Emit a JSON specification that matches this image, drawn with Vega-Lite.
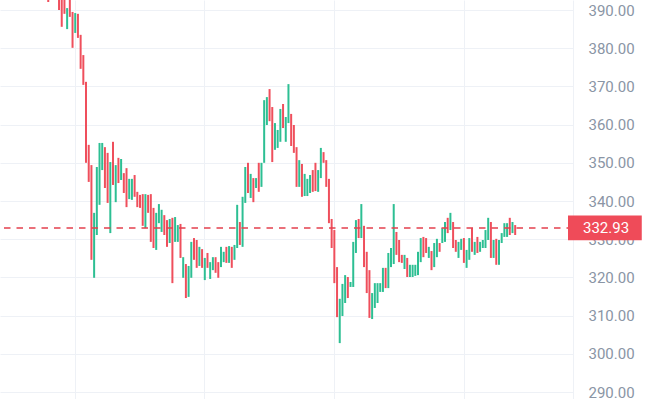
{
 "$schema": "https://vega.github.io/schema/vega-lite/v6.json",
 "width": 573, "height": 399, "autosize": "none", "padding": {"left": 0, "top": 0, "bottom": 0, "right": 83},
 "background": "#ffffff",
 "config": {"view": {"stroke": null}, "font": "Roboto", "axis": {"labelOverlap": false, "labelBound": false, "labelFlush": false}},
 "datasets": {
  "c": [
{"i":0,"d":"d","lo":392.1,"hi":394},{"i":4,"d":"d","lo":390.0,"hi":394},{"i":5,"d":"d","lo":385.6,"hi":394},{"i":6,"d":"d","lo":389.0,"hi":394},{"i":7,"d":"u","lo":385.0,"hi":390.5},{"i":8,"d":"d","lo":388.2,"hi":394},{"i":9,"d":"d","lo":380.1,"hi":389.5},{"i":10,"d":"u","lo":384.0,"hi":389.2},{"i":11,"d":"d","lo":382.7,"hi":389.0},{"i":12,"d":"d","lo":374.6,"hi":383.5},{"i":13,"d":"d","lo":370.4,"hi":378.2},{"i":14,"d":"d","lo":350.0,"hi":371.2},{"i":15,"d":"d","lo":345.0,"hi":354.7},{"i":16,"d":"d","lo":324.6,"hi":349.4},{"i":17,"d":"u","lo":319.9,"hi":336.9},{"i":18,"d":"u","lo":331.1,"hi":348.9},{"i":19,"d":"u","lo":339.0,"hi":355.2},{"i":20,"d":"u","lo":348.1,"hi":355.2},{"i":21,"d":"d","lo":343.4,"hi":354.1},{"i":22,"d":"d","lo":339.5,"hi":352.6},{"i":23,"d":"u","lo":331.6,"hi":350.2},{"i":24,"d":"d","lo":344.2,"hi":355.5},{"i":25,"d":"u","lo":339.7,"hi":349.4},{"i":26,"d":"d","lo":344.7,"hi":351.3},{"i":27,"d":"u","lo":345.5,"hi":351.0},{"i":28,"d":"d","lo":342.1,"hi":347.3},{"i":29,"d":"d","lo":338.4,"hi":348.6},{"i":30,"d":"u","lo":340.5,"hi":345.8},{"i":31,"d":"u","lo":340.3,"hi":345.8},{"i":32,"d":"d","lo":341.1,"hi":346.8},{"i":33,"d":"d","lo":338.4,"hi":342.4},{"i":34,"d":"d","lo":338.2,"hi":341.6},{"i":35,"d":"d","lo":333.5,"hi":341.8},{"i":36,"d":"u","lo":332.9,"hi":341.8},{"i":37,"d":"d","lo":336.9,"hi":341.6},{"i":38,"d":"d","lo":329.3,"hi":341.8},{"i":39,"d":"d","lo":327.7,"hi":338.2},{"i":40,"d":"u","lo":327.2,"hi":336.9},{"i":41,"d":"u","lo":334.2,"hi":339.2},{"i":42,"d":"u","lo":331.9,"hi":337.7},{"i":43,"d":"d","lo":331.1,"hi":336.3},{"i":44,"d":"d","lo":328.0,"hi":335.0},{"i":45,"d":"u","lo":329.0,"hi":335.3},{"i":46,"d":"d","lo":318.5,"hi":335.6},{"i":47,"d":"u","lo":329.3,"hi":335.8},{"i":48,"d":"u","lo":329.3,"hi":333.7},{"i":49,"d":"d","lo":325.1,"hi":334.0},{"i":50,"d":"u","lo":319.9,"hi":325.3},{"i":51,"d":"d","lo":314.6,"hi":323.5},{"i":52,"d":"u","lo":314.9,"hi":323.0},{"i":53,"d":"u","lo":319.9,"hi":329.3},{"i":54,"d":"d","lo":324.6,"hi":330.3},{"i":55,"d":"d","lo":322.5,"hi":329.8},{"i":56,"d":"u","lo":323.0,"hi":328.0},{"i":57,"d":"d","lo":322.5,"hi":327.4},{"i":58,"d":"u","lo":319.3,"hi":325.1},{"i":59,"d":"d","lo":322.5,"hi":326.4},{"i":60,"d":"u","lo":319.6,"hi":324.0},{"i":61,"d":"u","lo":321.9,"hi":325.3},{"i":62,"d":"d","lo":321.2,"hi":325.3},{"i":63,"d":"d","lo":319.9,"hi":324.0},{"i":64,"d":"u","lo":322.7,"hi":328.0},{"i":65,"d":"u","lo":324.0,"hi":326.7},{"i":66,"d":"d","lo":323.8,"hi":328.0},{"i":67,"d":"u","lo":323.8,"hi":328.2},{"i":68,"d":"d","lo":322.5,"hi":328.0},{"i":69,"d":"u","lo":324.6,"hi":328.5},{"i":70,"d":"u","lo":327.7,"hi":339.0},{"i":71,"d":"d","lo":328.5,"hi":334.5},{"i":72,"d":"u","lo":328.0,"hi":341.1},{"i":73,"d":"u","lo":339.5,"hi":348.9},{"i":74,"d":"d","lo":342.1,"hi":350.0},{"i":75,"d":"u","lo":340.8,"hi":347.1},{"i":76,"d":"d","lo":339.7,"hi":346.0},{"i":77,"d":"u","lo":343.4,"hi":346.0},{"i":78,"d":"d","lo":342.4,"hi":350.0},{"i":79,"d":"u","lo":343.7,"hi":350.0},{"i":80,"d":"u","lo":350.0,"hi":366.4},{"i":81,"d":"u","lo":359.9,"hi":367.2},{"i":82,"d":"d","lo":360.9,"hi":369.3},{"i":83,"d":"d","lo":350.2,"hi":364.6},{"i":84,"d":"u","lo":353.4,"hi":360.4},{"i":85,"d":"u","lo":353.9,"hi":358.6},{"i":86,"d":"u","lo":355.5,"hi":364.1},{"i":87,"d":"d","lo":359.1,"hi":365.4},{"i":88,"d":"u","lo":355.5,"hi":362.0},{"i":89,"d":"u","lo":360.4,"hi":370.6},{"i":90,"d":"d","lo":354.4,"hi":362.8},{"i":91,"d":"d","lo":352.6,"hi":359.9},{"i":92,"d":"d","lo":343.7,"hi":354.1},{"i":93,"d":"u","lo":343.7,"hi":350.7},{"i":94,"d":"d","lo":341.1,"hi":349.7},{"i":95,"d":"u","lo":341.3,"hi":347.1},{"i":96,"d":"u","lo":341.3,"hi":345.8},{"i":97,"d":"u","lo":342.1,"hi":346.8},{"i":98,"d":"d","lo":342.4,"hi":348.1},{"i":99,"d":"d","lo":342.6,"hi":350.0},{"i":100,"d":"u","lo":342.4,"hi":348.1},{"i":101,"d":"u","lo":346.0,"hi":353.9},{"i":102,"d":"d","lo":350.0,"hi":352.8},{"i":103,"d":"d","lo":343.7,"hi":350.7},{"i":104,"d":"d","lo":334.2,"hi":345.8},{"i":105,"d":"d","lo":327.7,"hi":335.3},{"i":106,"d":"d","lo":318.5,"hi":332.4},{"i":107,"d":"d","lo":309.6,"hi":322.7},{"i":108,"d":"u","lo":302.8,"hi":314.4},{"i":109,"d":"u","lo":309.9,"hi":318.3},{"i":110,"d":"u","lo":313.3,"hi":320.6},{"i":111,"d":"d","lo":314.6,"hi":320.1},{"i":112,"d":"u","lo":317.5,"hi":318.8},{"i":113,"d":"u","lo":317.5,"hi":329.3},{"i":114,"d":"u","lo":326.4,"hi":335.0},{"i":115,"d":"d","lo":330.3,"hi":335.3},{"i":116,"d":"u","lo":330.3,"hi":339.2},{"i":117,"d":"d","lo":322.7,"hi":333.5},{"i":118,"d":"d","lo":315.9,"hi":326.7},{"i":119,"d":"d","lo":309.4,"hi":321.9},{"i":120,"d":"u","lo":309.1,"hi":315.9},{"i":121,"d":"u","lo":312.0,"hi":318.5},{"i":122,"d":"u","lo":313.3,"hi":318.5},{"i":123,"d":"u","lo":316.2,"hi":318.5},{"i":124,"d":"u","lo":316.2,"hi":322.5},{"i":125,"d":"d","lo":317.2,"hi":322.5},{"i":126,"d":"u","lo":317.2,"hi":326.4},{"i":127,"d":"u","lo":322.7,"hi":327.7},{"i":128,"d":"u","lo":323.5,"hi":339.2},{"i":129,"d":"d","lo":325.9,"hi":331.9},{"i":130,"d":"d","lo":324.0,"hi":329.8},{"i":131,"d":"d","lo":323.8,"hi":325.9},{"i":132,"d":"u","lo":322.2,"hi":325.9},{"i":133,"d":"d","lo":320.1,"hi":325.1},{"i":134,"d":"u","lo":320.1,"hi":323.3},{"i":135,"d":"u","lo":320.1,"hi":323.3},{"i":136,"d":"u","lo":320.4,"hi":323.3},{"i":137,"d":"u","lo":320.6,"hi":326.7},{"i":138,"d":"u","lo":324.0,"hi":330.3},{"i":139,"d":"d","lo":325.3,"hi":330.6},{"i":140,"d":"d","lo":326.4,"hi":330.3},{"i":141,"d":"u","lo":325.1,"hi":328.0},{"i":142,"d":"d","lo":321.9,"hi":326.9},{"i":143,"d":"u","lo":322.7,"hi":329.0},{"i":144,"d":"u","lo":325.3,"hi":330.1},{"i":145,"d":"d","lo":326.7,"hi":329.0},{"i":146,"d":"u","lo":329.0,"hi":332.9},{"i":147,"d":"u","lo":329.3,"hi":334.5},{"i":148,"d":"d","lo":331.6,"hi":335.6},{"i":149,"d":"u","lo":332.4,"hi":336.9},{"i":150,"d":"d","lo":327.7,"hi":334.5},{"i":151,"d":"d","lo":326.7,"hi":329.8},{"i":152,"d":"u","lo":325.1,"hi":329.3},{"i":153,"d":"u","lo":327.2,"hi":330.1},{"i":154,"d":"d","lo":323.8,"hi":330.3},{"i":155,"d":"u","lo":322.5,"hi":327.2},{"i":156,"d":"u","lo":324.6,"hi":330.3},{"i":157,"d":"d","lo":326.7,"hi":332.9},{"i":158,"d":"u","lo":325.9,"hi":329.3},{"i":159,"d":"d","lo":326.4,"hi":330.6},{"i":160,"d":"u","lo":326.7,"hi":329.3},{"i":161,"d":"u","lo":327.7,"hi":329.8},{"i":162,"d":"u","lo":327.7,"hi":332.4},{"i":163,"d":"u","lo":329.8,"hi":335.6},{"i":164,"d":"d","lo":325.1,"hi":334.5},{"i":165,"d":"u","lo":325.1,"hi":329.8},{"i":166,"d":"d","lo":323.3,"hi":330.1},{"i":167,"d":"u","lo":323.3,"hi":329.8},{"i":168,"d":"u","lo":329.0,"hi":331.6},{"i":169,"d":"u","lo":330.6,"hi":334.2},{"i":170,"d":"u","lo":330.6,"hi":334.2},{"i":171,"d":"d","lo":331.1,"hi":335.6},{"i":172,"d":"u","lo":331.6,"hi":334.5},{"i":173,"d":"d","lo":331.1,"hi":333.7}
  ],
  "last": [{"p": 332.93, "t": "332.93"}]
 },
 "layer": [
  {
   "data": {"name": "c"},
   "mark": {"type": "bar", "width": 2, "clip": true},
   "encoding": {
    "x": {"field": "i", "type": "quantitative",
          "scale": {"domain": [-16.02, 192.57], "nice": false, "zero": false},
          "axis": {"values": [9.8, 57.6, 105.9, 154], "tickCount": 10, "labels": false, "ticks": false, "domain": false, "title": null, "grid": true, "gridColor": "#eef1f6", "gridWidth": 1}},
    "y": {"field": "lo", "type": "quantitative",
          "scale": {"domain": [288.17, 392.62], "nice": false, "zero": false},
          "axis": {"orient": "right", "values": [290, 300, 310, 320, 330, 340, 350, 360, 370, 380, 390], "tickCount": 20, "format": ".2f", "title": null, "ticks": false, "domain": true, "domainColor": "#eef1f6", "labelPadding": 15, "labelFontSize": 15, "labelColor": "#8a95a5", "labelFont": "Roboto", "grid": true, "gridColor": "#eef1f6", "labelBound": false, "labelOverlap": false, "labelFlush": false}},
    "y2": {"field": "hi"},
    "color": {"field": "d", "type": "nominal", "scale": {"domain": ["u", "d"], "range": ["#2dbf93", "#ef4f5c"]}, "legend": null}
   }
  },
  {
   "data": {"name": "last"},
   "mark": {"type": "rule", "strokeDash": [6.5, 6], "color": "#e3404e", "strokeWidth": 1.5},
   "encoding": {"y": {"field": "p", "type": "quantitative", "title": null}}
  },
  {
   "data": {"name": "last"},
   "mark": {"type": "rect", "color": "#ef4b59", "clip": false},
   "encoding": {
    "x": {"datum": 192.57, "type": "quantitative", "title": null},
    "x2": {"datum": 219.9},
    "y": {"datum": 336.2, "type": "quantitative", "title": null},
    "y2": {"datum": 329.7}
   }
  },
  {
   "data": {"name": "last"},
   "mark": {"type": "text", "align": "left", "baseline": "middle", "color": "#ffffff", "fontSize": 15, "dx": 15, "font": "Roboto"},
   "encoding": {
    "x": {"datum": 192.57, "type": "quantitative", "title": null},
    "y": {"field": "p", "type": "quantitative", "title": null},
    "text": {"field": "t"}
   }
  }
 ]
}
